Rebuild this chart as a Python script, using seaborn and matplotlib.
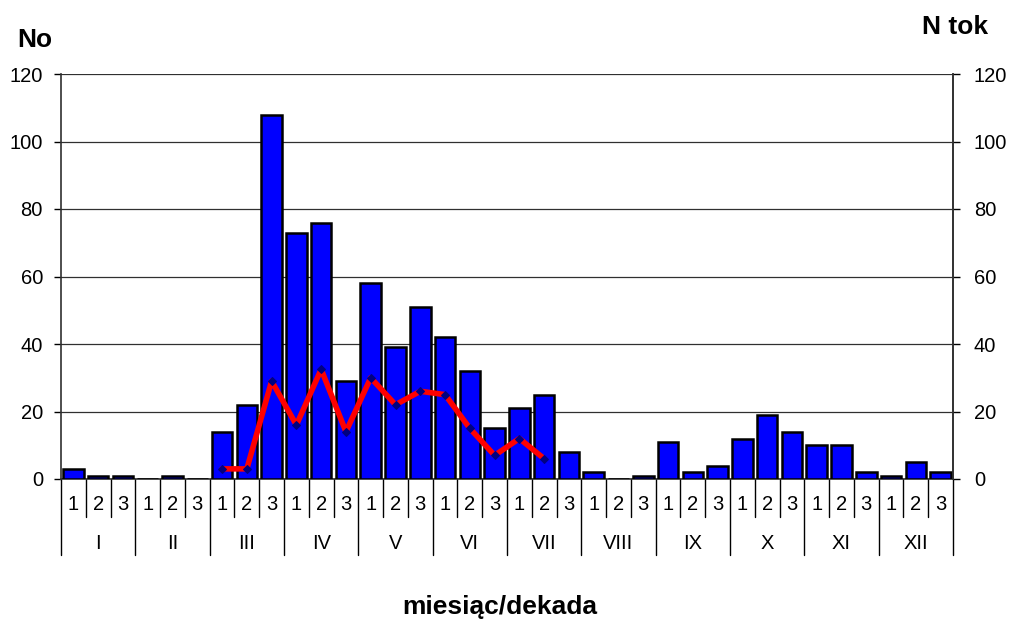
import numpy as np
import pandas as pd
import matplotlib
matplotlib.use("Agg")
import matplotlib.pyplot as plt
import matplotlib.transforms as mtransforms
import seaborn as sns

# decade counts (No), 3 decades per month
months = ["I", "II", "III", "IV", "V", "VI", "VII", "VIII", "IX", "X", "XI", "XII"]
decades = ["1", "2", "3"]
no_values = [3, 1, 1, 0, 1, 0, 14, 22, 108, 73, 76, 29,
             58, 39, 51, 42, 32, 15, 21, 25, 8, 2, 0, 1,
             11, 2, 4, 12, 19, 14, 10, 10, 2, 1, 5, 2]
# N tok, from III/1 to VII/2
ntok_start = 6
ntok_values = [3, 3, 29, 16, 32.5, 14, 30, 22, 26, 25, 15, 7, 12, 6]

yticks = [0, 20, 40, 60, 80, 100, 120]

sns.set_style("white")
plt.rcParams["font.family"] = ["Liberation Sans", "DejaVu Sans"]
plt.rcParams["text.color"] = "black"
plt.rcParams["xtick.color"] = "black"
plt.rcParams["ytick.color"] = "black"

df = pd.DataFrame({"pos": np.arange(len(no_values)), "No": no_values})
df_line = pd.DataFrame({"pos": np.arange(ntok_start, ntok_start + len(ntok_values)),
                        "Ntok": ntok_values})

fig = plt.figure(figsize=(10.1, 6.2), dpi=100)
ax = fig.add_axes([61 / 1010, 1 - 479 / 620, 892 / 1010, 405 / 620])

sns.barplot(data=df, x="pos", y="No", color="#0000FF", saturation=1,
            width=0.83, edgecolor="black", linewidth=1.8, ax=ax, zorder=3)

ax.set_xlim(-0.5, len(no_values) - 0.5)
ax.set_ylim(0, 120)
ax.set_yticks(yticks)
ax.set_yticklabels([str(t) for t in yticks], fontsize=14.5)
ax.yaxis.grid(True, color="#303030", linewidth=0.9, zorder=0)
ax.set_axisbelow(True)
ax.set_xticks([])
ax.set_xlabel("")
ax.set_ylabel("")
ax.tick_params(axis="y", length=5, width=1, direction="out", pad=8, left=True)
ax.spines["top"].set_visible(False)
for s in ["left", "right", "bottom"]:
    ax.spines[s].set_color("#303030")
    ax.spines[s].set_linewidth(1.2)

ax2 = ax.twinx()
sns.lineplot(data=df_line, x="pos", y="Ntok", color="red", linewidth=4,
             marker="D", markersize=4, markerfacecolor="#000080",
             markeredgecolor="#000080", ax=ax2, zorder=4)
ax2.set_ylim(0, 120)
ax2.set_yticks(yticks)
ax2.set_yticklabels([str(t) for t in yticks], fontsize=14.5)
ax2.tick_params(axis="y", length=5, width=1, direction="out", pad=10, right=True)
ax2.set_ylabel("")
ax2.set_xlabel("")
for s in ["top", "left", "bottom"]:
    ax2.spines[s].set_visible(False)
ax2.spines["right"].set_color("#303030")
ax2.spines["right"].set_linewidth(1.2)

# two-level category axis
trans = mtransforms.blended_transform_factory(ax.transData, ax.transAxes)
n = len(no_values)
for i in range(n + 1):
    x = i - 0.5
    bottom = -0.188 if i % 3 == 0 else -0.094
    ax.plot([x, x], [0, bottom], color="black", linewidth=1, transform=trans,
            clip_on=False)
for i in range(n):
    ax.text(i, -0.064, decades[i % 3], transform=trans, ha="center", va="center",
            fontsize=14.5)
for m, name in enumerate(months):
    ax.text(3 * m + 1, -0.160, name, transform=trans, ha="center", va="center",
            fontsize=14.5)

fig.text(35 / 1010, 1 - 40 / 620, "No", ha="center", va="center",
         fontsize=19, fontweight="bold")
fig.text(955 / 1010, 1 - 27 / 620, "N tok", ha="center", va="center",
         fontsize=19, fontweight="bold")
fig.text(500 / 1010, 1 - 607 / 620, "miesiąc/dekada", ha="center", va="center",
         fontsize=19, fontweight="bold")

fig.savefig("out.png", dpi=100)
